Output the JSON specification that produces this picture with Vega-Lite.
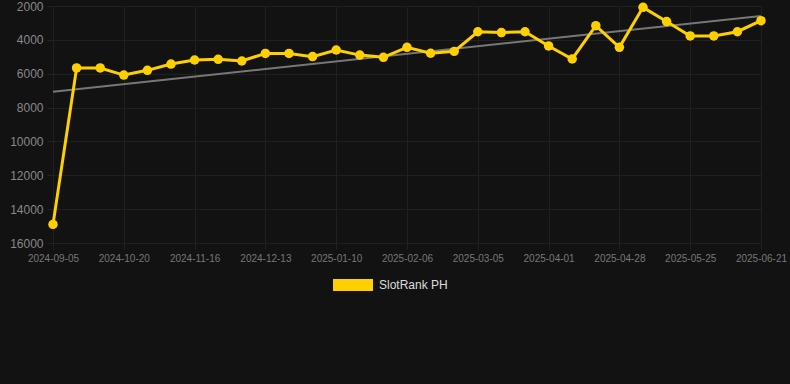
{
  "$schema": "https://vega.github.io/schema/vega-lite/v6.json",
  "autosize": "none",
  "width": 708,
  "height": 237,
  "padding": {"left": 53, "top": 6, "right": 29, "bottom": 141},
  "background": "#121212",
  "config": {
    "view": {"stroke": null},
    "font": "Liberation Sans",
    "axis": {"domain": false, "gridColor": "#202020", "gridWidth": 1, "tickColor": "#222222", "tickSize": 6}
  },
  "datasets": {
    "rank": [
      {"date": "2024-09-05", "rank": 14900},
      {"date": "2024-10-02", "rank": 5660},
      {"date": "2024-10-11", "rank": 5660},
      {"date": "2024-10-20", "rank": 6080},
      {"date": "2024-10-29", "rank": 5800},
      {"date": "2024-11-07", "rank": 5430},
      {"date": "2024-11-16", "rank": 5190},
      {"date": "2024-11-25", "rank": 5150},
      {"date": "2024-12-04", "rank": 5250},
      {"date": "2024-12-13", "rank": 4800},
      {"date": "2024-12-22", "rank": 4800},
      {"date": "2024-12-31", "rank": 4990},
      {"date": "2025-01-10", "rank": 4600},
      {"date": "2025-01-19", "rank": 4900},
      {"date": "2025-01-28", "rank": 5030},
      {"date": "2025-02-06", "rank": 4440},
      {"date": "2025-02-15", "rank": 4790},
      {"date": "2025-02-24", "rank": 4680},
      {"date": "2025-03-05", "rank": 3520},
      {"date": "2025-03-14", "rank": 3570},
      {"date": "2025-03-23", "rank": 3520},
      {"date": "2025-04-01", "rank": 4360},
      {"date": "2025-04-10", "rank": 5130},
      {"date": "2025-04-19", "rank": 3160},
      {"date": "2025-04-28", "rank": 4440},
      {"date": "2025-05-07", "rank": 2080},
      {"date": "2025-05-16", "rank": 2920},
      {"date": "2025-05-25", "rank": 3770},
      {"date": "2025-06-03", "rank": 3770},
      {"date": "2025-06-12", "rank": 3520},
      {"date": "2025-06-21", "rank": 2870}
    ],
    "trend": [
      {"date": "2024-09-05", "rank": 7060},
      {"date": "2025-06-21", "rank": 2590}
    ]
  },
  "encoding": {
    "x": {
      "field": "date",
      "type": "ordinal",
      "sort": null,
      "scale": {
        "type": "point",
        "padding": 0,
        "domain": ["2024-09-05", "2024-10-02", "2024-10-11", "2024-10-20", "2024-10-29", "2024-11-07", "2024-11-16", "2024-11-25", "2024-12-04", "2024-12-13", "2024-12-22", "2024-12-31", "2025-01-10", "2025-01-19", "2025-01-28", "2025-02-06", "2025-02-15", "2025-02-24", "2025-03-05", "2025-03-14", "2025-03-23", "2025-04-01", "2025-04-10", "2025-04-19", "2025-04-28", "2025-05-07", "2025-05-16", "2025-05-25", "2025-06-03", "2025-06-12", "2025-06-21"]
      },
      "axis": {
        "title": null,
        "grid": true,
        "labelAngle": 0,
        "labelFontSize": 10,
        "labelColor": "#777777",
        "labelPadding": 4,
        "labelFlush": false,
        "labelBound": false,
        "labelOverlap": false,
        "values": ["2024-09-05", "2024-10-20", "2024-11-16", "2024-12-13", "2025-01-10", "2025-02-06", "2025-03-05", "2025-04-01", "2025-04-28", "2025-05-25", "2025-06-21"]
      }
    },
    "y": {
      "field": "rank",
      "type": "quantitative",
      "scale": {"domain": [2000, 16000], "reverse": true, "nice": false, "zero": false},
      "axis": {
        "title": null,
        "values": [2000, 4000, 6000, 8000, 10000, 12000, 14000, 16000],
        "format": "d",
        "labelFontSize": 12,
        "labelColor": "#888888",
        "labelPadding": 4
      }
    }
  },
  "layer": [
    {
      "data": {"name": "trend"},
      "mark": {"type": "line", "color": "#777777", "strokeWidth": 2}
    },
    {
      "data": {"name": "rank"},
      "mark": {"type": "line", "strokeWidth": 3, "color": "#FFD000"}
    },
    {
      "data": {"name": "rank"},
      "transform": [{"calculate": "'SlotRank PH'", "as": "series"}],
      "mark": {"type": "point", "filled": true, "opacity": 1, "size": 90},
      "encoding": {
        "color": {
          "field": "series",
          "type": "nominal",
          "scale": {"range": ["#FFD000"]},
          "legend": {
            "title": null,
            "orient": "none",
            "legendX": 280,
            "legendY": 259,
            "padding": 0,
            "symbolType": "M-1,-0.3H1V0.3H-1Z",
            "symbolSize": 1600,
            "symbolStrokeWidth": 0,
            "symbolOpacity": 1,
            "labelFontSize": 12,
            "labelColor": "#dddddd",
            "labelOffset": 6
          }
        }
      }
    }
  ]
}
